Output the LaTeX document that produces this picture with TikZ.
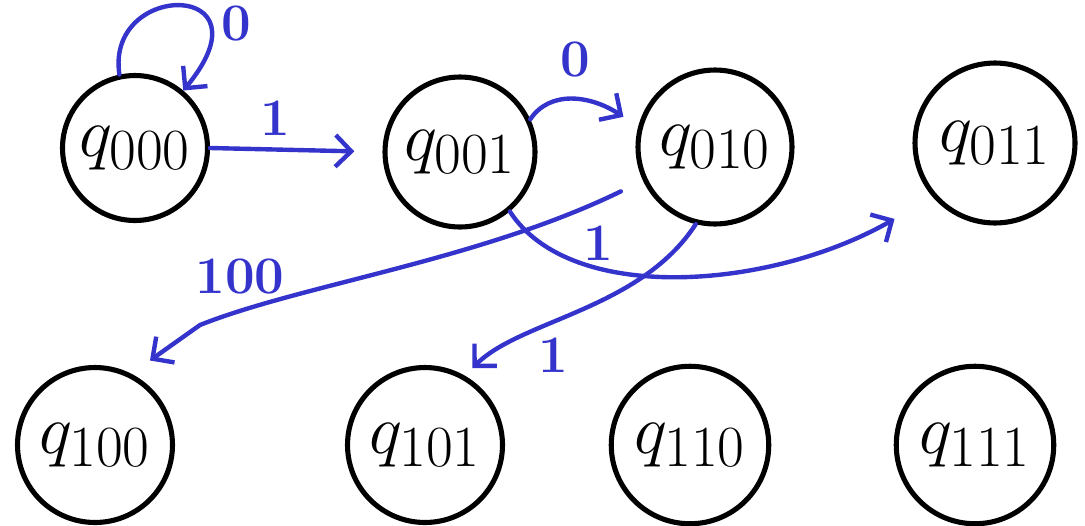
\documentclass[tikz,border=0pt]{standalone}
\usepackage{graphicx}
\usetikzlibrary{arrows.meta}
\definecolor{pen}{RGB}{52,52,204}
\newcommand{\qlab}[1]{\scalebox{1.6}{$q_{#1}$}}
\begin{document}
\begin{tikzpicture}[x=0.02cm,y=-0.02cm,
  state/.style={circle,draw=black,line width=2.9pt,inner sep=0pt,font=\fontsize{24.88}{26}\selectfont},
  edge/.style={draw=pen,line width=2.5pt,line cap=round,-{Straight Barb[length=9pt,width=18pt,line width=2.5pt]}},
  lab/.style={text=pen,font=\fontsize{30}{30}\selectfont\bfseries}]
\useasboundingbox (0,0) rectangle (1085,525);
\node[state,minimum size=2.9cm] (q000) at (135,148) {\qlab{000}};
\node[state,minimum size=3.0cm] (q001) at (460,152) {\qlab{001}};
\node[state,minimum size=3.08cm] (q010) at (715,147) {\qlab{010}};
\node[state,minimum size=3.2cm] (q011) at (995,143) {\qlab{011}};
\node[state,minimum size=3.1cm] (q100) at (95,445) {\qlab{100}};
\node[state,minimum size=3.1cm] (q101) at (425,445) {\qlab{101}};
\node[state,minimum size=3.15cm] (q110) at (690,445) {\qlab{110}};
\node[state,minimum size=3.15cm] (q111) at (975,445) {\qlab{111}};
% self loop
\draw[edge] (q000.102) .. controls (105,-20) and (275,-20) .. (q000.50);
\node[lab] (l0) at (236,24) {0};
% q000 -> q001
\draw[edge,shorten >=16pt] (q000.east) -- (q001.west);
\node[lab] (l1) at (275,118) {1};
% q001 -> q010
\draw[edge,shorten >=10pt] (q001.25) .. controls (550,90) and (590,95) .. (q010.165);
\node[lab] (l2) at (575,60) {0};
% q010 -> q100
\draw[edge,shorten <=14pt,shorten >=13pt] (q010.205) .. controls (480,260) and (300,285) .. (200,325) -- (q100.63);
\node[lab] (l3) at (240,277) {100};
% q001 -> q011
\draw[edge,shorten >=25pt] (q001.-50) .. controls (570,305) and (770,290) .. (q011.221);
\node[lab] (l4) at (598,243) {1};
% q010 -> q101
\draw[edge,shorten >=6pt] (q010.256) .. controls (640,310) and (520,320) .. (q101.60);
\node[lab] (l5) at (553,355) {1};
\end{tikzpicture}
\end{document}
